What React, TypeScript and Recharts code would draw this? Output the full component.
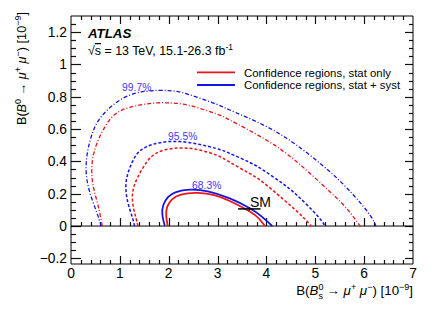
import { ComposedChart, Line, XAxis, YAxis, ReferenceLine, Customized } from 'recharts'

const FONT = '"Liberation Sans", Arial, Helvetica, sans-serif'
const RED = '#e8161b'
const BLUE = '#1414e6'
const LABEL_BLUE = '#3b3bf0'

const W = 436
const H = 314
const PLOT = { left: 71, top: 16, width: 342, height: 248 }

// contour points, x = B(Bs->mumu), y = B(B0->mumu), both in 1e-9
const stat683: [number, number][] = [
  [1.98, 0], [1.95, 0.06], [1.97, 0.12], [2.07, 0.165], [2.25, 0.195], [2.6, 0.205],
  [2.95, 0.19], [3.25, 0.155], [3.66, 0.09], [3.85, 0.045], [3.97, 0],
]
const syst683: [number, number][] = [
  [1.92, 0], [1.87, 0.07], [1.89, 0.13], [1.99, 0.18], [2.15, 0.21], [2.43, 0.225],
  [2.8, 0.215], [3.25, 0.171], [3.66, 0.11], [3.9, 0.06], [4.12, 0],
]
const stat955: [number, number][] = [
  [1.37, 0], [1.33, 0.049], [1.26, 0.152], [1.3, 0.255], [1.47, 0.359], [1.74, 0.45],
  [2.2, 0.483], [2.6, 0.472], [2.97, 0.44], [3.25, 0.395], [3.6, 0.335], [3.94, 0.268],
  [4.48, 0.13], [4.75, 0.055], [4.92, 0],
]
const syst955: [number, number][] = [
  [1.3, 0], [1.26, 0.049], [1.16, 0.152], [1.13, 0.276], [1.26, 0.4], [1.54, 0.49],
  [2.22, 0.523], [2.97, 0.48], [3.25, 0.45], [3.65, 0.395], [3.94, 0.345], [4.3, 0.27],
  [4.62, 0.192], [5.03, 0.068], [5.2, 0],
]
const stat997: [number, number][] = [
  [0.64, 0], [0.55, 0.132], [0.45, 0.255], [0.43, 0.379], [0.52, 0.503], [0.72, 0.626],
  [1.06, 0.72], [1.67, 0.76], [2.0, 0.762], [2.4, 0.748], [2.97, 0.695], [3.25, 0.656],
  [3.94, 0.543], [4.62, 0.398], [5.3, 0.212], [5.64, 0.11], [5.92, 0],
]
const syst997: [number, number][] = [
  [0.62, 0], [0.52, 0.09], [0.38, 0.214], [0.31, 0.338], [0.34, 0.461], [0.45, 0.585],
  [0.65, 0.688], [1.06, 0.79], [1.55, 0.835], [2.0, 0.838], [2.4, 0.815], [2.97, 0.755],
  [3.25, 0.718], [3.94, 0.625], [4.62, 0.5], [5.3, 0.336], [5.78, 0.192], [6.12, 0.068],
  [6.24, 0],
]

// SM prediction with uncertainties
const smBs = 3.65
const smBsErr = 0.23
const smB0 = 0.106
const smB0Err = 0.01

const xDomain: [number, number] = [0, 7]
const yDomain: [number, number] = [-0.235, 1.3]
const xTicks = Array.from({ length: 36 }, (_, i) => i / 5)
const yTicks = Array.from({ length: 30 }, (_, i) => (i - 4) / 20)

const pts = (a: [number, number][]) => a.map(([x, y]) => ({ x, y }))

const isMajorX = (v: number) => Math.round(v * 5) % 5 === 0
const isMajorY = (v: number) => (((Math.round(v * 20) % 4) + 4) % 4) === 0
const fmt = (v: number) =>
  (Math.abs(v) < 1e-9 ? '0' : Number.isInteger(v) ? String(v) : v.toFixed(1)).replace('-', '−')

const sx = (v: number) => PLOT.left + ((v - xDomain[0]) / (xDomain[1] - xDomain[0])) * PLOT.width
const sy = (v: number) => PLOT.top + ((yDomain[1] - v) / (yDomain[1] - yDomain[0])) * PLOT.height
const snap = (p: number) => Math.round(p) + 0.5

function BottomLabel({ x, y, payload }: any) {
  if (!isMajorX(payload.value)) return <g />
  return (
    <text x={x} y={y + 13.8} textAnchor="middle" fontSize={13.8} fontFamily={FONT} fill="#000">
      {fmt(payload.value)}
    </text>
  )
}

function LeftLabel({ x, y, payload }: any) {
  if (!isMajorY(payload.value)) return <g />
  return (
    <text x={x - 4} y={y + 5} textAnchor="end" fontSize={13.8} fontFamily={FONT} fill="#000">
      {fmt(payload.value)}
    </text>
  )
}

// ROOT-style inward ticks on all four sides and along the y = 0 line
function tickMarks() {
  const bottom = PLOT.top + PLOT.height
  const right = PLOT.left + PLOT.width
  const y0 = sy(0)
  const inner = xTicks.filter((v) => v > xDomain[0] && v < xDomain[1])
  const innerY = yTicks.filter((v) => v > yDomain[0] && v < yDomain[1])
  const out: JSX.Element[] = []
  inner.forEach((v) => {
    const len = isMajorX(v) ? 8 : 4
    const x = snap(sx(v))
    out.push(<line key={'b' + v} x1={x} x2={x} y1={bottom} y2={bottom - len} />)
    out.push(<line key={'t' + v} x1={x} x2={x} y1={PLOT.top} y2={PLOT.top + len} />)
    out.push(<line key={'z' + v} x1={x} x2={x} y1={y0} y2={y0 - len} />)
  })
  innerY.forEach((v) => {
    const major = isMajorY(v)
    const y = snap(sy(v))
    out.push(<line key={'l' + v} x1={PLOT.left} x2={PLOT.left + (major ? 10 : 5)} y1={y} y2={y} />)
    out.push(<line key={'r' + v} x1={right} x2={right - (major ? 8 : 4)} y1={y} y2={y} />)
  })
  return (
    <g stroke="#111" strokeWidth={1.2} fill="none">
      {out}
    </g>
  )
}

function Annotations() {
  return (
    <g fontFamily={FONT} fill="#000">
      {tickMarks()}

      <text x={88} y={38} fontSize={13.3} fontWeight="bold" fontStyle="italic">ATLAS</text>
      <text x={88} y={55} fontSize={12.4}>
        √<tspan textDecoration="overline">s</tspan> = 13 TeV, 15.1-26.3 fb
        <tspan dy={-5} fontSize={8.5}>-1</tspan>
      </text>

      <line x1={197} x2={235} y1={72.3} y2={72.3} stroke={RED} strokeWidth={1.8} />
      <line x1={197} x2={235} y1={85} y2={85} stroke={BLUE} strokeWidth={1.8} />
      <text x={244} y={76.5} fontSize={11.4}>Confidence regions, stat only</text>
      <text x={244} y={89.2} fontSize={11.4}>Confidence regions, stat + syst</text>

      <g fill={LABEL_BLUE} fontSize={10.3} textAnchor="middle">
        <text x={136.7} y={91}>99.7%</text>
        <text x={182.7} y={139.5}>95.5%</text>
        <text x={206.7} y={188.7}>68.3%</text>
      </g>
      <text x={250} y={206.5} fontSize={14}>SM</text>

      <text x={413} y={295} fontSize={13.3} textAnchor="end">
        B(<tspan fontStyle="italic">B</tspan>
        <tspan dy={-5.5} fontSize={9}>0</tspan>
        <tspan dx={-5} dy={9.5} fontSize={9}>s</tspan>
        <tspan dy={-4}> → </tspan>
        <tspan fontStyle="italic">μ</tspan>
        <tspan dy={-5.5} fontSize={9}>+</tspan>
        <tspan dy={5.5}> </tspan>
        <tspan fontStyle="italic">μ</tspan>
        <tspan dy={-5.5} fontSize={9}>−</tspan>
        <tspan dy={5.5}>) [10</tspan>
        <tspan dy={-5.5} fontSize={9}>−9</tspan>
        <tspan dy={5.5}>]</tspan>
      </text>

      <text transform="translate(26,12) rotate(-90)" fontSize={12.7} textAnchor="end">
        B(<tspan fontStyle="italic">B</tspan>
        <tspan dy={-5.5} fontSize={9}>0</tspan>
        <tspan dy={5.5}> → </tspan>
        <tspan fontStyle="italic">μ</tspan>
        <tspan dy={-5.5} fontSize={9}>+</tspan>
        <tspan dy={5.5}> </tspan>
        <tspan fontStyle="italic">μ</tspan>
        <tspan dy={-5.5} fontSize={9}>−</tspan>
        <tspan dy={5.5}>) [10</tspan>
        <tspan dy={-5.5} fontSize={9}>−9</tspan>
        <tspan dy={5.5}>]</tspan>
      </text>
    </g>
  )
}

const contours = [
  { key: 'syst997', data: syst997, color: BLUE, dash: '4 2 1 2', width: 1.3 },
  { key: 'stat997', data: stat997, color: RED, dash: '4 2 1 2', width: 1.3 },
  { key: 'syst955', data: syst955, color: BLUE, dash: '3 2', width: 1.5 },
  { key: 'stat955', data: stat955, color: RED, dash: '3 2', width: 1.5 },
  { key: 'syst683', data: syst683, color: BLUE, dash: undefined, width: 1.8 },
  { key: 'stat683', data: stat683, color: RED, dash: undefined, width: 1.8 },
]

export default function App() {
  return (
    <div style={{ position: 'absolute', left: 0, top: 0, background: '#fff' }}>
      <ComposedChart width={W} height={H} margin={{ top: 0, right: 0, bottom: 0, left: 0 }}>
        <XAxis
          xAxisId={0}
          type="number"
          dataKey="x"
          domain={xDomain}
          ticks={xTicks}
          interval={0}
          height={H - PLOT.top - PLOT.height}
          tickSize={0}
          tickMargin={0}
          tickLine={false}
          tick={BottomLabel}
          stroke="#000"
          allowDataOverflow
        />
        <XAxis
          xAxisId="top"
          orientation="top"
          type="number"
          dataKey="x"
          domain={xDomain}
          height={PLOT.top}
          tickLine={false}
          tick={false}
          stroke="#000"
          allowDataOverflow
        />
        <YAxis
          yAxisId={0}
          type="number"
          domain={yDomain}
          ticks={yTicks}
          interval={0}
          width={PLOT.left}
          tickSize={0}
          tickMargin={0}
          tickLine={false}
          tick={LeftLabel}
          stroke="#000"
          allowDataOverflow
        />
        <YAxis
          yAxisId="right"
          orientation="right"
          type="number"
          domain={yDomain}
          width={W - PLOT.left - PLOT.width}
          tickLine={false}
          tick={false}
          stroke="#000"
          allowDataOverflow
        />

        <ReferenceLine y={0} stroke="#000" strokeWidth={1} />

        {contours.map((c) => (
          <Line
            key={c.key}
            data={pts(c.data)}
            dataKey="y"
            type="natural"
            stroke={c.color}
            strokeWidth={c.width}
            strokeDasharray={c.dash}
            dot={false}
            activeDot={false}
            isAnimationActive={false}
          />
        ))}

        <ReferenceLine
          segment={[
            { x: smBs - smBsErr, y: smB0 },
            { x: smBs + smBsErr, y: smB0 },
          ]}
          stroke="#000"
          strokeWidth={1.5}
        />
        <ReferenceLine
          segment={[
            { x: smBs, y: smB0 - smB0Err },
            { x: smBs, y: smB0 + smB0Err },
          ]}
          stroke="#000"
          strokeWidth={1.5}
        />

        <Customized component={<Annotations />} />
      </ComposedChart>
    </div>
  )
}
